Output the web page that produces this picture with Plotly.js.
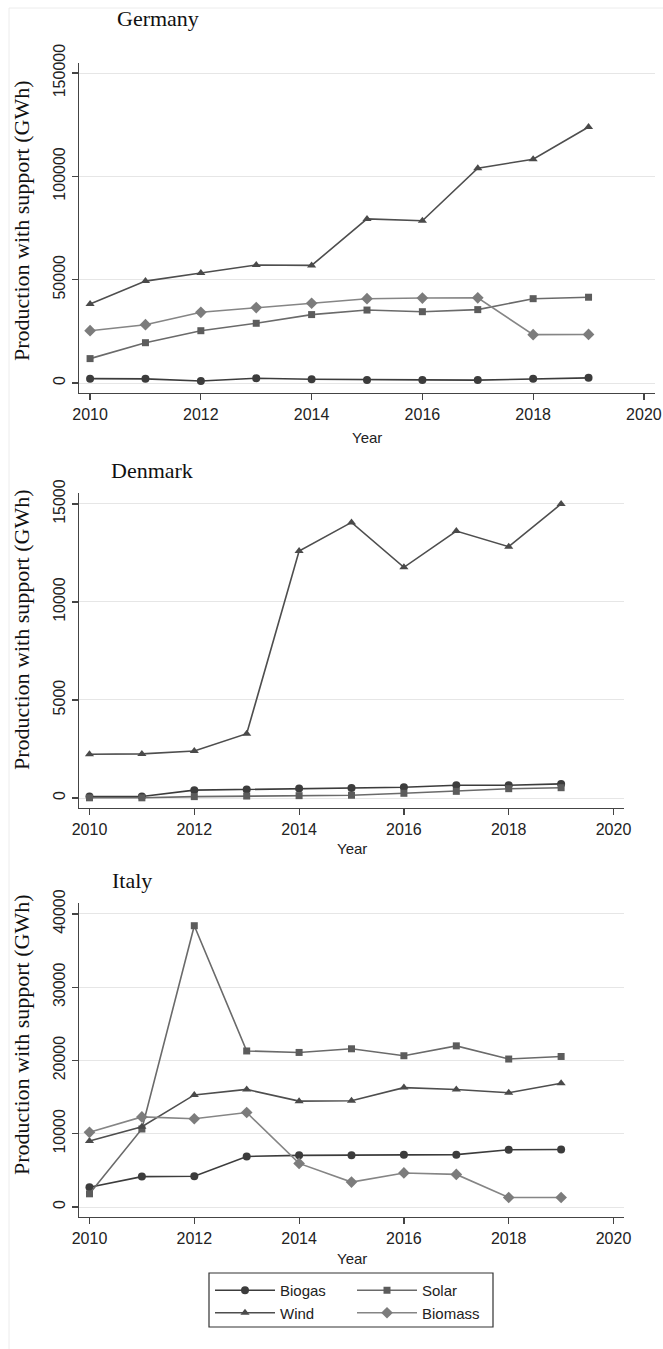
<!DOCTYPE html>
<html>
<head>
<meta charset="utf-8">
<script src="https://cdn.plot.ly/plotly-3.0.1.min.js"></script>
<style>
html,body{margin:0;padding:0;background:#fff;}
#chart{width:663px;height:1349px;}
</style>
</head>
<body>
<div id="chart"></div>
<script>
// ---------- data ----------
const years = [2010, 2011, 2012, 2013, 2014, 2015, 2016, 2017, 2018, 2019];
const xTickVals = [2010, 2012, 2014, 2016, 2018, 2020];
const seriesNames = ["Biogas", "Solar", "Wind", "Biomass"];
const countries = ["Germany", "Denmark", "Italy"];

// Germany (GWh)
const germanyBiogas  = [2100, 2000, 1000, 2300, 1800, 1500, 1500, 1400, 2100, 2500];
const germanySolar   = [11800, 19500, 25300, 28900, 33100, 35300, 34500, 35500, 40800, 41500];
const germanyWind    = [38200, 49300, 53200, 57100, 56900, 79400, 78500, 103900, 108300, 123900];
const germanyBiomass = [25300, 28200, 34200, 36500, 38600, 40800, 41100, 41200, 23400, 23500];
const germanyYTicks  = [0, 50000, 100000, 150000];

// Denmark (GWh) - no biomass series shown
const denmarkBiogas  = [80, 80, 400, 430, 490, 510, 545, 650, 650, 720];
const denmarkSolar   = [10, 10, 70, 100, 120, 140, 240, 340, 475, 525];
const denmarkWind    = [2230, 2250, 2400, 3280, 12600, 14060, 11770, 13620, 12820, 15000];
const denmarkBiomass = null;
const denmarkYTicks  = [0, 5000, 10000, 15000];

// Italy (GWh)
const italyBiogas  = [2700, 4150, 4200, 6900, 7050, 7050, 7150, 7150, 7820, 7850];
const italySolar   = [1800, 10650, 38400, 21300, 21100, 21600, 20650, 22000, 20200, 20550];
const italyWind    = [9000, 10950, 15300, 16050, 14450, 14500, 16300, 16050, 15600, 16900];
const italyBiomass = [10200, 12300, 12050, 12900, 5950, 3400, 4650, 4450, 1300, 1300];
const italyYTicks  = [0, 10000, 20000, 30000, 40000];

// ---------- styles ----------
const W = 663, H = 1349;
const px = v => v / W;
const py = v => 1 - v / H;

const styles = {
  Biogas:  {color: "#3c3c3c", line: "#3c3c3c", symbol: "circle", size: 8, legend: "legend"},
  Solar:   {color: "#5c5c5c", line: "#6a6a6a", symbol: "square", size: 7, legend: "legend2"},
  Wind:    {color: "#4a4a4a", line: "#4e4e4e", symbol: "triangle-up", size: 8, legend: "legend"},
  Biomass: {color: "#7c7c7c", line: "#858585", symbol: "diamond", size: 9, legend: "legend2"}
};

const panelData = [
  {Biogas: germanyBiogas, Solar: germanySolar, Wind: germanyWind, Biomass: germanyBiomass},
  {Biogas: denmarkBiogas, Solar: denmarkSolar, Wind: denmarkWind, Biomass: denmarkBiomass},
  {Biogas: italyBiogas, Solar: italySolar, Wind: italyWind, Biomass: italyBiomass}
];
const yTicks = [germanyYTicks, denmarkYTicks, italyYTicks];

// plot boxes in pixels: [left, right, top, bottom]
const boxes = [
  [79, 655, 63, 393],
  [79, 624, 493, 808],
  [79, 624, 903, 1217]
];
const yRanges = [[-4840, 154840], [-510, 15560], [-1364, 41500]];

const traces = [];
panelData.forEach((pd, i) => {
  const sfx = i === 0 ? "" : String(i + 1);
  seriesNames.forEach(name => {
    if (!pd[name]) return;
    const st = styles[name];
    traces.push({
      type: "scatter", mode: "lines+markers",
      x: years, y: pd[name], name: name,
      xaxis: "x" + sfx, yaxis: "y" + sfx,
      legendgroup: name,
      legend: st.legend,
      showlegend: i === 2,
      line: {color: st.line, width: 1.6},
      marker: {color: st.color, symbol: st.symbol, size: st.size}
    });
  });
});

const tickFont = {family: "Liberation Sans, Arial, sans-serif", size: 16, color: "#222"};
const legendFont = {family: "Liberation Sans, Arial, sans-serif", size: 15, color: "#222"};
const legendCommon = {
  xanchor: "left", yanchor: "top", orientation: "v",
  itemwidth: 60, borderwidth: 0, bgcolor: "rgba(0,0,0,0)",
  font: legendFont, traceorder: "normal", tracegroupgap: 0
};

const layout = {
  width: W, height: H,
  margin: {l: 0, r: 0, t: 0, b: 0},
  paper_bgcolor: "#fff", plot_bgcolor: "#fff",
  showlegend: true,
  legend: Object.assign({}, legendCommon, {x: px(210), y: py(1274)}),
  legend2: Object.assign({}, legendCommon, {x: px(352), y: py(1274)}),
  annotations: [],
  shapes: [
    {type: "line", xref: "paper", yref: "paper", x0: px(9), x1: 1, y0: py(8), y1: py(8), line: {color: "#ececec", width: 1}},
    {type: "line", xref: "paper", yref: "paper", x0: px(9), x1: px(9), y0: py(8), y1: 0, line: {color: "#ececec", width: 1}},
    {type: "rect", xref: "paper", yref: "paper", x0: px(209), x1: px(493), y0: py(1327), y1: py(1273), line: {color: "#333", width: 1.2}, fillcolor: "rgba(0,0,0,0)"}
  ]
};

const titleY = [19, 470, 880];
const titleX = [115, 109, 110];
const yTitleCenter = [221, 630, 1035];
const xTitleY = [437, 848, 1258];

boxes.forEach((b, i) => {
  const sfx = i === 0 ? "" : String(i + 1);
  layout["xaxis" + sfx] = {
    domain: [px(b[0]), px(b[1])],
    anchor: "y" + sfx,
    range: [2009.8, 2020.2],
    tickvals: xTickVals, ticktext: xTickVals.map(String),
    ticks: "outside", ticklen: 6, tickcolor: "#444", tickwidth: 1.2,
    ticklabelstandoff: 0,
    showline: true, linecolor: "#444", linewidth: 1.4,
    showgrid: false, zeroline: false,
    tickfont: tickFont
  };
  layout["yaxis" + sfx] = {
    domain: [py(b[3]), py(b[2])],
    anchor: "x" + sfx,
    range: yRanges[i],
    tickvals: yTicks[i], ticktext: yTicks[i].map(String),
    tickangle: -90,
    ticks: "outside", ticklen: 6, tickcolor: "#444", tickwidth: 1.2,
    showline: true, linecolor: "#444", linewidth: 1.4,
    showgrid: true, gridcolor: "#e6e6e6", gridwidth: 1,
    zeroline: false,
    tickfont: tickFont
  };
  layout.annotations.push({
    text: countries[i], xref: "paper", yref: "paper",
    x: px(titleX[i]), y: py(titleY[i]), xanchor: "left", yanchor: "middle",
    showarrow: false,
    font: {family: "Liberation Serif, Times New Roman, serif", size: 22, color: "#111"}
  });
  layout.annotations.push({
    text: "Production with support (GWh)", xref: "paper", yref: "paper",
    x: px(21), y: py(yTitleCenter[i]), xanchor: "center", yanchor: "middle",
    textangle: -90, showarrow: false,
    font: {family: "Liberation Serif, Times New Roman, serif", size: 22, color: "#111"}
  });
  layout.annotations.push({
    text: "Year", xref: "paper", yref: "paper",
    x: px((b[0] + b[1]) / 2), y: py(xTitleY[i]), xanchor: "center", yanchor: "middle",
    showarrow: false,
    font: {family: "Liberation Sans, Arial, sans-serif", size: 15, color: "#222"}
  });
});

Plotly.newPlot("chart", traces, layout, {staticPlot: true, displayModeBar: false});
</script>
</body>
</html>
